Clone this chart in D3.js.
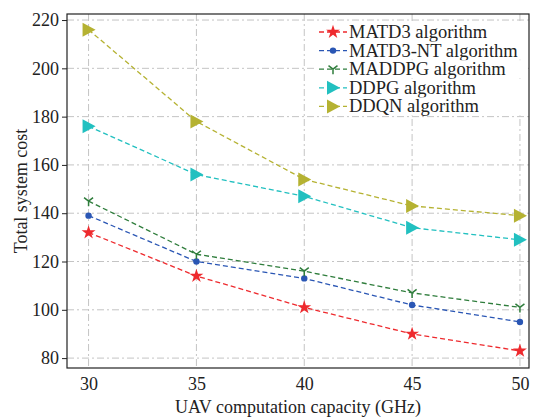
<!DOCTYPE html>
<head>
  <meta charset="utf-8">
  <script src="https://d3js.org/d3.v7.min.js"></script>
  <style>
    body { margin: 0; background: #fff; }
    svg text { font-family: "Liberation Serif", "Times New Roman", "DejaVu Serif", serif !important; fill: #222; }
  </style>
</head>
<body>
<svg width="539" height="420"></svg>
<script>

  let capacity = [30, 35, 40, 45, 50];
  let yTicks = [80, 100, 120, 140, 160, 180, 200, 220];

  let matd3 = [132, 114, 101, 90, 83];
  let matd3nt = [139, 120, 113, 102, 95];
  let maddpg = [145, 123, 116, 107, 101];
  let ddpg = [176, 156, 147, 134, 129];
  let ddqn = [216, 178, 154, 143, 139];

  let seriesNames = ["MATD3 algorithm", "MATD3-NT algorithm", "MADDPG algorithm", "DDPG algorithm", "DDQN algorithm"];
  let seriesColors = ["#ee2a2e", "#2a56b4", "#2f7d3c", "#22c0c0", "#b5b232"];
  let seriesMarkers = ["star", "dot", "tri", "right", "right"];
  let seriesValues = [matd3, matd3nt, maddpg, ddpg, ddqn];

  let svg = d3.select("svg"),
    pLeft = 67, pRight = 529, pTop = 14, pBottom = 368;

  let x = d3.scaleLinear().domain([29, 50.42]).range([pLeft, pRight]);
  let y = d3.scaleLinear().domain([75.9, 222.5]).range([pBottom, pTop]);

  // grid
  let grid = svg.append("g").attr("stroke", "#c4c4c4").attr("stroke-width", 1)
    .attr("stroke-dasharray", "7,3,2,3");
  grid.selectAll(".gx").data(capacity).enter().append("line")
    .attr("x1", d => x(d)).attr("x2", d => x(d)).attr("y1", pTop).attr("y2", pBottom);
  grid.selectAll(".gy").data(yTicks).enter().append("line")
    .attr("y1", d => y(d)).attr("y2", d => y(d)).attr("x1", pLeft).attr("x2", pRight);

  // frame
  svg.append("rect").attr("x", pLeft).attr("y", pTop).attr("width", pRight - pLeft).attr("height", pBottom - pTop)
    .attr("fill", "none").attr("stroke", "#222").attr("stroke-width", 1.2);

  let xAxis = svg.append("g").attr("transform", "translate(0," + pBottom + ")")
    .call(d3.axisBottom(x).tickValues(capacity).tickSize(0).tickPadding(9));
  let yAxis = svg.append("g").attr("transform", "translate(" + pLeft + ",0)")
    .call(d3.axisLeft(y).tickValues(yTicks).tickSize(5).tickPadding(3));
  [xAxis, yAxis].forEach(a => {
    a.attr("font-family", null);
    a.select(".domain").remove();
    a.selectAll("text").style("font-size", "18px").attr("fill", "#222");
    a.selectAll("line").attr("stroke", "#222");
  });

  svg.append("text").attr("x", (pLeft + pRight) / 2).attr("y", 413).attr("text-anchor", "middle")
    .style("font-size", "18px").text("UAV computation capacity (GHz)");
  svg.append("text").attr("transform", "translate(27," + ((pTop + pBottom) / 2) + ") rotate(-90)")
    .attr("text-anchor", "middle").style("font-size", "18px").text("Total system cost");

  function drawMarker(g, kind, color) {
    if (kind === "star") {
      g.append("path").attr("d", d3.symbol().type(d3.symbolStar).size(60)()).attr("fill", color);
    } else if (kind === "dot") {
      g.append("circle").attr("r", 3.2).attr("fill", color);
    } else if (kind === "tri") {
      g.append("path").attr("d", "M0,0L0,5M0,0L-4.5,-3.5M0,0L4.5,-3.5")
        .attr("stroke", color).attr("stroke-width", 1.5).attr("fill", "none");
    } else {
      g.append("path").attr("d", "M-6,-7L7,0L-6,7Z").attr("fill", color);
    }
  }

  let line = d3.line().x((d, i) => x(capacity[i])).y(d => y(d));

  seriesValues.forEach((vals, s) => {
    svg.append("path").datum(vals).attr("d", line).attr("fill", "none")
      .attr("stroke", seriesColors[s]).attr("stroke-width", 1.3).attr("stroke-dasharray", "5,3");
    vals.forEach((v, i) => {
      let g = svg.append("g").attr("transform", "translate(" + x(capacity[i]) + "," + y(v) + ")");
      drawMarker(g, seriesMarkers[s], seriesColors[s]);
    });
  });

  // legend
  let legend = svg.append("g").attr("transform", "translate(319,32)");
  seriesNames.forEach((name, s) => {
    let row = legend.append("g").attr("transform", "translate(0," + (s * 18.6) + ")");
    row.append("rect").attr("x", -3).attr("y", -9).attr("width", 212).attr("height", 18).attr("fill", "#fff");
    row.append("line").attr("x1", 0).attr("x2", 28).attr("stroke", seriesColors[s])
      .attr("stroke-width", 1.3).attr("stroke-dasharray", "5,3");
    let m = row.append("g").attr("transform", "translate(14,0)");
    drawMarker(m, seriesMarkers[s], seriesColors[s]);
    row.append("text").attr("x", 30).attr("y", 6).style("font-size", "18.5px").text(name);
  });

</script>
</body>
